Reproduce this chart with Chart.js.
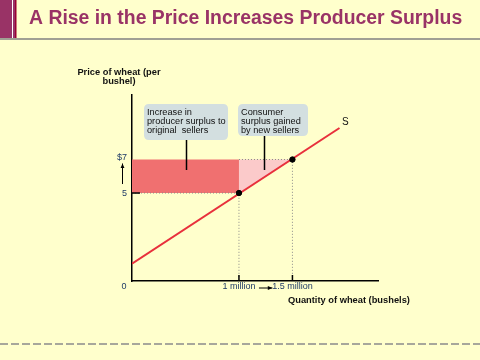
<!DOCTYPE html>
<html>
<head>
<meta charset="utf-8">
<script src="https://cdn.jsdelivr.net/npm/chart.js"></script>
<style>
  html, body { margin: 0; padding: 0; background: #ffffcc; }
  canvas { display: block; }
</style>
</head>
<body>
<canvas id="surplusChart" width="480" height="360"></canvas>
<script>
// quantities in millions of bushels, prices in $ per bushel
const supplyQty = [0, 1.94];
const supplyPrice = [0.78, 8.88];
const oldPrice = 5;
const newPrice = 7;
const oldQty = 1;
const newQty = 1.5;

const xTickValues = [1, 1.5];
const xTickLabels = ['1 million', '1.5 million'];
const yTickValues = [5, 7];
const yTickLabels = ['5', '$7'];

const titleText = 'A Rise in the Price Increases Producer Surplus';
const yAxisTitle = ['Price of wheat (per', 'bushel)'];
const xAxisTitle = 'Quantity of wheat (bushels)';
const calloutLeft = ['Increase in', 'producer surplus to', 'original  sellers'];
const calloutRight = ['Consumer', 'surplus gained', 'by new sellers'];

const FONT = '"Liberation Sans", Arial, sans-serif';

function pts(xs, ys) {
  return xs.map((x, i) => ({ x: x, y: ys[i] }));
}

function dotted(data) {
  return {
    data: data,
    showLine: true,
    borderColor: '#8a8a8a',
    borderWidth: 1,
    borderDash: [1, 2],
    pointRadius: 0,
    fill: false,
    order: 4
  };
}

function roundRect(ctx, x, y, w, h, r) {
  ctx.beginPath();
  ctx.moveTo(x + r, y);
  ctx.lineTo(x + w - r, y);
  ctx.quadraticCurveTo(x + w, y, x + w, y + r);
  ctx.lineTo(x + w, y + h - r);
  ctx.quadraticCurveTo(x + w, y + h, x + w - r, y + h);
  ctx.lineTo(x + r, y + h);
  ctx.quadraticCurveTo(x, y + h, x, y + h - r);
  ctx.lineTo(x, y + r);
  ctx.quadraticCurveTo(x, y, x + r, y);
  ctx.closePath();
}

function arrow(ctx, x1, y1, x2, y2) {
  const a = Math.atan2(y2 - y1, x2 - x1);
  ctx.beginPath();
  ctx.moveTo(x1, y1);
  ctx.lineTo(x2, y2);
  ctx.stroke();
  ctx.beginPath();
  ctx.moveTo(x2, y2);
  ctx.lineTo(x2 - 5 * Math.cos(a - 0.4), y2 - 5 * Math.sin(a - 0.4));
  ctx.lineTo(x2 - 5 * Math.cos(a + 0.4), y2 - 5 * Math.sin(a + 0.4));
  ctx.closePath();
  ctx.fill();
}

const decorations = {
  id: 'decorations',
  afterDraw(chart) {
    const ctx = chart.ctx;
    const xs = chart.scales.x;
    const ys = chart.scales.y;
    const area = chart.chartArea;
    ctx.save();

    // title band
    ctx.fillStyle = '#993366';
    ctx.fillRect(0, 0, 16, 38);
    ctx.fillStyle = '#990033';
    ctx.fillRect(15, 0, 1.5, 38);
    ctx.fillStyle = '#ffffff';
    ctx.fillRect(12, 0, 1, 38);
    ctx.strokeStyle = '#808080';
    ctx.lineWidth = 1.5;
    ctx.beginPath();
    ctx.moveTo(0, 39);
    ctx.lineTo(480, 39);
    ctx.stroke();
    ctx.fillStyle = '#993366';
    ctx.font = 'bold 19.4px ' + FONT;
    ctx.textAlign = 'left';
    ctx.textBaseline = 'alphabetic';
    ctx.fillText(titleText, 29, 24);

    // bottom dashed rule
    ctx.strokeStyle = '#8a8a8a';
    ctx.lineWidth = 1.5;
    ctx.setLineDash([8, 3]);
    ctx.beginPath();
    ctx.moveTo(0, 344);
    ctx.lineTo(480, 344);
    ctx.stroke();
    ctx.setLineDash([]);

    // inner tick marks
    ctx.strokeStyle = '#000';
    ctx.lineWidth = 1.5;
    xTickValues.forEach(v => {
      const px = xs.getPixelForValue(v);
      ctx.beginPath();
      ctx.moveTo(px, area.bottom);
      ctx.lineTo(px, area.bottom - 6);
      ctx.stroke();
    });
    const py5 = ys.getPixelForValue(oldPrice);
    ctx.beginPath();
    ctx.moveTo(area.left, py5);
    ctx.lineTo(area.left + 8, py5);
    ctx.stroke();

    // tick labels
    ctx.fillStyle = '#1f3b66';
    ctx.font = '9px ' + FONT;
    ctx.textBaseline = 'middle';
    ctx.textAlign = 'center';
    xTickValues.forEach((v, i) => {
      ctx.fillText(xTickLabels[i], xs.getPixelForValue(v), area.bottom + 6);
    });
    ctx.fillText('0', xs.getPixelForValue(0) - 8, area.bottom + 6);
    ctx.textAlign = 'right';
    yTickValues.forEach((v, i) => {
      ctx.fillText(yTickLabels[i], area.left - 5, ys.getPixelForValue(v) - (i === 1 ? 2 : 0));
    });

    // change arrows
    ctx.strokeStyle = '#000';
    ctx.fillStyle = '#000';
    ctx.lineWidth = 1;
    arrow(ctx, 122.5, ys.getPixelForValue(oldPrice) - 9, 122.5, ys.getPixelForValue(newPrice) + 4);
    arrow(ctx, xs.getPixelForValue(oldQty) + 20, area.bottom + 7, xs.getPixelForValue(newQty) - 20, area.bottom + 7);

    // axis titles
    ctx.fillStyle = '#111';
    ctx.font = 'bold 9.3px ' + FONT;
    ctx.textAlign = 'center';
    ctx.fillText(yAxisTitle[0], 119, 72);
    ctx.fillText(yAxisTitle[1], 119, 81);
    ctx.textAlign = 'left';
    ctx.fillText(xAxisTitle, 288, 300);

    // supply label
    ctx.font = '10px ' + FONT;
    ctx.fillText('S', 342, 122);

    // callouts
    const boxes = [
      { x: 144, y: 104, w: 84, h: 36, lineX: 186.5, lines: calloutLeft },
      { x: 238, y: 104, w: 70, h: 32, lineX: 264.5, lines: calloutRight }
    ];
    boxes.forEach(b => {
      ctx.strokeStyle = '#000';
      ctx.lineWidth = 1.5;
      ctx.beginPath();
      ctx.moveTo(b.lineX, b.y + b.h);
      ctx.lineTo(b.lineX, 170);
      ctx.stroke();
      ctx.fillStyle = '#d3dfe0';
      roundRect(ctx, b.x, b.y, b.w, b.h, 5);
      ctx.fill();
      ctx.fillStyle = '#111';
      ctx.font = '9.2px ' + FONT;
      ctx.textAlign = 'left';
      b.lines.forEach((t, i) => ctx.fillText(t, b.x + 3, 112 + i * 9));
    });

    ctx.restore();
  }
};

const datasets = [
  {
    // gain to original sellers
    data: pts([0, oldQty], [newPrice, newPrice]),
    showLine: true,
    borderWidth: 0,
    pointRadius: 0,
    backgroundColor: '#f07070',
    fill: { value: oldPrice },
    order: 6
  },
  {
    // gain from new sellers
    data: pts([oldQty, newQty], [oldPrice, newPrice]),
    showLine: true,
    borderWidth: 0,
    pointRadius: 0,
    backgroundColor: '#fbcaca',
    fill: { value: newPrice },
    order: 5
  },
  dotted(pts([0, oldQty], [oldPrice, oldPrice])),
  dotted(pts([oldQty, newQty], [newPrice, newPrice])),
  dotted(pts([oldQty, oldQty], [0, oldPrice])),
  dotted(pts([newQty, newQty], [0, newPrice])),
  {
    data: pts(supplyQty, supplyPrice),
    showLine: true,
    borderColor: '#e8303c',
    borderWidth: 2,
    pointRadius: 0,
    fill: false,
    order: 2
  },
  {
    data: pts([oldQty, newQty], [oldPrice, newPrice]),
    showLine: false,
    pointRadius: 2.7,
    pointBackgroundColor: '#000',
    pointBorderColor: '#000',
    order: 1
  }
];

const config = {
  type: 'scatter',
  data: { datasets: datasets },
  options: {
    responsive: false,
    animation: false,
    layout: { padding: { left: 132, right: 102, top: 95, bottom: 79 } },
    plugins: {
      legend: { display: false },
      tooltip: { enabled: false }
    },
    scales: {
      x: {
        type: 'linear',
        min: 0,
        max: 2.3,
        ticks: { display: false },
        grid: { display: false, drawTicks: false },
        border: { display: true, color: '#000', width: 1.5 }
      },
      y: {
        type: 'linear',
        min: -0.25,
        max: 10.85,
        ticks: { display: false },
        grid: { display: false, drawTicks: false },
        border: { display: true, color: '#000', width: 1.5 }
      }
    }
  },
  plugins: [decorations]
};

const ctx = document.getElementById('surplusChart').getContext('2d');
const myChart = new Chart(ctx, config);
</script>
</body>
</html>
